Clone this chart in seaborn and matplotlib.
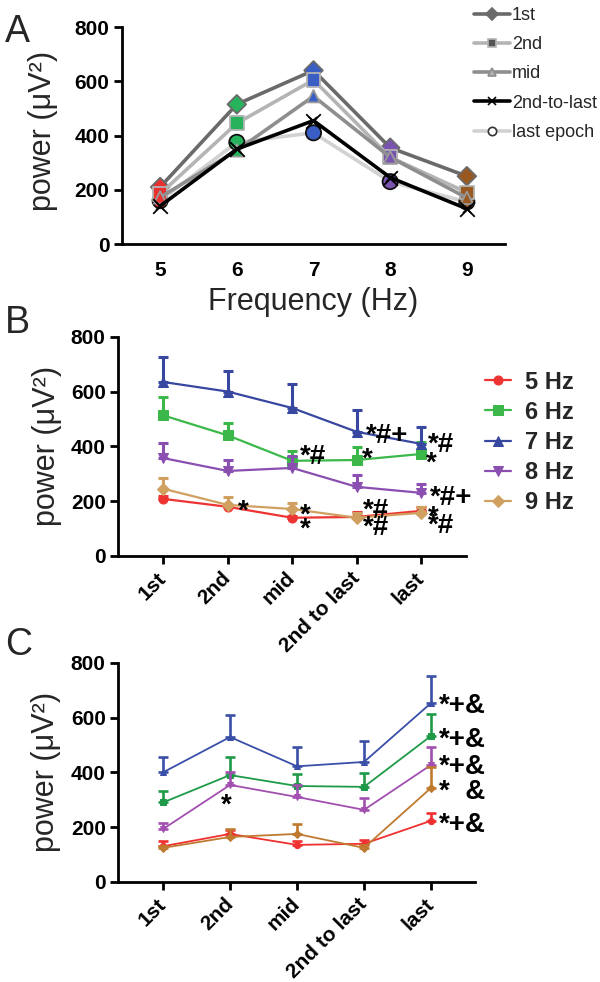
import matplotlib
matplotlib.use("Agg")
import matplotlib.pyplot as plt
import matplotlib.transforms as mtransforms
import seaborn as sns
import numpy as np

sns.set_theme(style="ticks")
plt.rcParams['font.family'] = ['Liberation Sans', 'DejaVu Sans']

# ---------------- data: panel A (power per frequency, per epoch)
freqs = [5, 6, 7, 8, 9]
pow_1st = [210, 515, 640, 355, 250]
pow_2nd = [185, 445, 605, 320, 190]
pow_mid = [172, 345, 545, 320, 170]
pow_2nd_to_last = [140, 350, 455, 245, 130]
pow_last = [160, 375, 410, 230, 155]
epoch_names_a = ['1st', '2nd', 'mid', '2nd-to-last', 'last epoch']

# ---------------- data: panels B and C (mean + upper SEM per epoch)
epochs = ['1st', '2nd', 'mid', '2nd to last', 'last']
hz_labels = ['5 Hz', '6 Hz', '7 Hz', '8 Hz', '9 Hz']

b_mean_5 = [208, 179, 139, 142, 164]
b_mean_6 = [513, 440, 347, 350, 372]
b_mean_7 = [635, 600, 540, 453, 409]
b_mean_8 = [357, 310, 321, 252, 230]
b_mean_9 = [245, 186, 171, 139, 157]
b_sem_5 = [10, 8, 8, 18, 14]
b_sem_6 = [67, 45, 36, 48, 45]
b_sem_7 = [92, 76, 88, 80, 62]
b_sem_8 = [55, 40, 44, 44, 32]
b_sem_9 = [40, 29, 22, 18, 22]

c_mean_5 = [130, 175, 135, 139, 223]
c_mean_6 = [290, 390, 350, 347, 533]
c_mean_7 = [400, 529, 422, 438, 653]
c_mean_8 = [193, 354, 310, 263, 427]
c_mean_9 = [124, 164, 175, 124, 343]
c_sem_5 = [20, 15, 15, 14, 29]
c_sem_6 = [42, 66, 44, 51, 80]
c_sem_7 = [56, 80, 71, 77, 99]
c_sem_8 = [22, 47, 44, 44, 66]
c_sem_9 = [8, 29, 37, 10, 77]

# significance marks (x index, y value, text)
b_marks = [(1.16, 186, '*'), (2.12, 372, '*#'), (2.12, 171, '*'), (2.12, 120, '*'),
           (3.14, 449, '*#+'), (3.08, 376, '*'), (3.09, 175, '*#'), (3.09, 110, '*#'),
           (4.1, 416, '*#'), (4.08, 362, '*'), (4.13, 222, '*#+'), (4.1, 164, '*'),
           (4.1, 118, '*#')]
c_marks = [(0.94, 303, '*'), (4.12, 653, '*+&'), (4.12, 529, '*+&'),
           (4.12, 431, '*+&'), (4.12, 340, '*  &'), (4.12, 219, '*+&')]

freq_colors = ['#e8312f', '#27b35c', '#3a5ec4', '#7a55b0', '#99581f']
b_colors = ['#ee3333', '#3cb84a', '#3848a0', '#8a4fb0', '#d0a060']
c_colors = ['#f03030', '#1e9a48', '#3a4fa8', '#a24fb0', '#c07a30']
b_markers = ['o', 's', '^', 'v', 'D']

fig = plt.figure(figsize=(6, 9.82), dpi=100)
ax_a = fig.add_axes([0.203, 0.7515, 0.639, 0.221])
ax_b = fig.add_axes([0.197, 0.434, 0.58, 0.223])
ax_c = fig.add_axes([0.197, 0.102, 0.595, 0.223])

# ---------------- panel A
a_series = [pow_1st, pow_2nd, pow_mid, pow_2nd_to_last, pow_last]
a_line_colors = ['#6a6a6a', '#b4b4b4', '#8e8e8e', '#000000', '#d2d2d2']
a_marker = ['D', 's', '^', 'x', 'o']
a_leg_face = ['#6a6a6a', '#555555', '#b0b0b0', '#000000', '#ffffff']
a_leg_edge = ['#6a6a6a', '#b4b4b4', '#8e8e8e', '#000000', '#333333']
a_pt_edge = ['#6a6a6a', '#b4b4b4', '#9a9a9a', '#000000', '#111111']
a_pt_size = [90, 100, 80, 110, 120]
a_z = [3, 4, 5, 7, 2]
for vals, name, lc, mk, fc, ec, pe, ps, z in zip(a_series, epoch_names_a, a_line_colors, a_marker,
                                                   a_leg_face, a_leg_edge, a_pt_edge, a_pt_size, a_z):
    sns.lineplot(x=freqs, y=vals, ax=ax_a, color=lc, linewidth=2.6, marker=mk, markersize=6,
                 markerfacecolor=fc, markeredgecolor=ec, markeredgewidth=1.2, label=name, zorder=z)
    if mk == 'x':
        sns.scatterplot(x=freqs, y=vals, ax=ax_a, color='black', marker='x', s=ps,
                        linewidth=1.3, legend=False, zorder=z + 0.5)
    else:
        sns.scatterplot(x=freqs, y=vals, ax=ax_a, hue=freqs, palette=freq_colors, marker=mk, s=ps,
                        edgecolor=pe, linewidth=1.3, legend=False, zorder=z + 0.5)

ax_a.set_xlim(4.5, 9.5)
ax_a.set_ylim(0, 800)
ax_a.set_xticks(freqs)
ax_a.set_yticks([0, 200, 400, 600, 800])
ax_a.tick_params(axis='x', length=0, pad=12, labelsize=15, width=2)
ax_a.tick_params(axis='y', length=6, pad=3, labelsize=15, width=2)
ax_a.set_xlabel('Frequency (Hz)', fontsize=22, labelpad=5)
ax_a.set_ylabel('power (μV²)', fontsize=22)
ax_a.yaxis.set_label_coords(-0.167, 0.52)
handles, labels = ax_a.get_legend_handles_labels()
ax_a.get_legend().remove()
fig.legend(handles, labels, loc='upper left', bbox_to_anchor=(0.772, 1.004), frameon=False,
           fontsize=13, handlelength=2.0, handletextpad=0.1, labelspacing=0.68, borderpad=0.1)


def epoch_panel(ax, means, sems, colors, msize, lw):
    x = np.arange(len(epochs))
    for lab, m, s, c, mk in zip(hz_labels, means, sems, colors, b_markers):
        sns.lineplot(x=x, y=m, ax=ax, color=c, marker=mk, markersize=msize,
                     markeredgecolor=c, linewidth=lw, label=lab)
        ax.errorbar(x, m, yerr=[np.zeros(len(m)), s], fmt='none', ecolor=c,
                    elinewidth=lw + 0.6, capsize=3.5, capthick=lw + 0.6)
    ax.set_xticks(x)
    ax.set_xticklabels(epochs, rotation=45, ha='right', va='center', rotation_mode='anchor')
    ax.set_ylim(0, 800)
    ax.set_yticks([0, 200, 400, 600, 800])
    ax.tick_params(axis='x', length=6, width=2, labelsize=15, pad=8)
    ax.tick_params(axis='y', length=6, width=2, labelsize=15, pad=3)
    ax.set_ylabel('power (μV²)', fontsize=22)
    ax.yaxis.set_label_coords(-0.161, 0.5)


def add_marks(ax, marks):
    for xm, ym, t in marks:
        # a lone asterisk sits high in its box, push it down a little
        shift = -5 if t == '*' else -2
        tr = mtransforms.offset_copy(ax.transData, fig=fig, x=0, y=shift, units='points')
        ax.text(xm, ym, t, fontsize=20, fontweight='bold', ha='center' if xm < 1 else 'left',
                va='center', color='black', transform=tr)


epoch_panel(ax_b, [b_mean_5, b_mean_6, b_mean_7, b_mean_8, b_mean_9],
            [b_sem_5, b_sem_6, b_sem_7, b_sem_8, b_sem_9], b_colors, 6.5, 1.6)
ax_b.set_xlim(-0.7, 4.7)
handles, labels = ax_b.get_legend_handles_labels()
ax_b.get_legend().remove()
fig.legend(handles, labels, loc='upper left', bbox_to_anchor=(0.785, 0.637), frameon=False,
           prop={'size': 17, 'weight': 'bold'}, handlelength=1.1, handletextpad=0.6,
           labelspacing=0.3, borderpad=0.1)
add_marks(ax_b, b_marks)

epoch_panel(ax_c, [c_mean_5, c_mean_6, c_mean_7, c_mean_8, c_mean_9],
            [c_sem_5, c_sem_6, c_sem_7, c_sem_8, c_sem_9], c_colors, 4.5, 1.3)
ax_c.set_xlim(-0.67, 4.66)
ax_c.get_legend().remove()
add_marks(ax_c, c_marks)

for ax in (ax_a, ax_b, ax_c):
    sns.despine(ax=ax)
    for sp in ('left', 'bottom'):
        ax.spines[sp].set_linewidth(2)
        ax.spines[sp].set_color('black')
    plt.setp(ax.get_xticklabels() + ax.get_yticklabels(), fontweight='bold')
    ax.tick_params(colors='black')

fig.text(0.008, 1 - 42 / 982, 'A', fontsize=27)
fig.text(0.008, 1 - 333 / 982, 'B', fontsize=27)
fig.text(0.008, 1 - 655 / 982, 'C', fontsize=27)

fig.savefig('out.png', dpi=100)
